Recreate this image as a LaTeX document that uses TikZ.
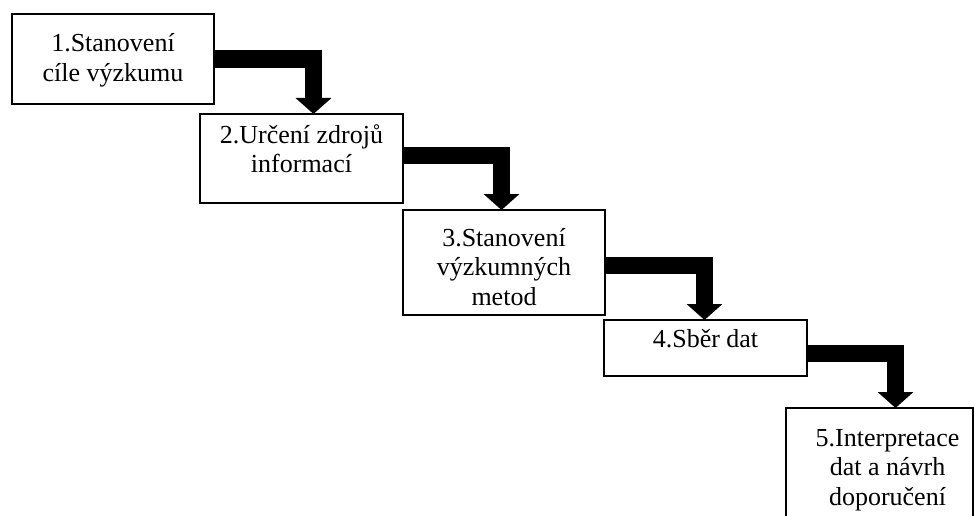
\documentclass[tikz,border=0pt]{standalone}
\usepackage{fontspec}
\setmainfont{Liberation Serif}
\usetikzlibrary{arrows.meta}
\newcommand{\mkboxtext}[5][0pt]{\parbox[c][#3][t]{#2}{\fontsize{26pt}{29.5pt}\selectfont\centering\leftskip=#1 plus 1fil\rule{0pt}{#4}#5}}
\begin{document}
\begin{tikzpicture}[x=1pt,y=-1pt,
  stepbox/.style={draw, line width=1.5pt, inner sep=0pt, outer sep=0pt},
  flow/.style={line width=17.5pt, line join=miter, -{Triangle[width=35pt,length=16pt]}}]
\useasboundingbox (0,0) rectangle (974,516);
\clip (0,0) rectangle (974,516);
\node[stepbox] (b1) at (113,59) {\mkboxtext{202pt}{90pt}{38pt}{1.Stanovení\\cíle výzkumu}};
\node[stepbox] (b2) at (301.5,158.5) {\mkboxtext{203pt}{89pt}{29pt}{2.Určení zdrojů\\informací}};
\node[stepbox] (b3) at (504,262.5) {\mkboxtext{202pt}{105pt}{36pt}{3.Stanovení\\výzkumných\\metod}};
\node[stepbox] (b4) at (705.5,348) {\mkboxtext{203pt}{56pt}{27pt}{4.Sběr dat}};
\node[stepbox] (b5) at (879.5,473) {\mkboxtext[16pt]{187pt}{130pt}{38pt}{5.Interpretace\\dat a návrh\\doporučení}};
\draw[flow] (b1.east) -| ([xshift=12pt]b2.north);
\draw[flow] ([yshift=3pt]b2.east) -| ([xshift=-2.5pt]b3.north);
\draw[flow] ([yshift=-3pt]b3.east) -| ([xshift=-1pt]b4.north);
\draw[flow] ([yshift=-5.5pt]b4.east) -| ([xshift=16pt]b5.north);
\end{tikzpicture}
\end{document}
